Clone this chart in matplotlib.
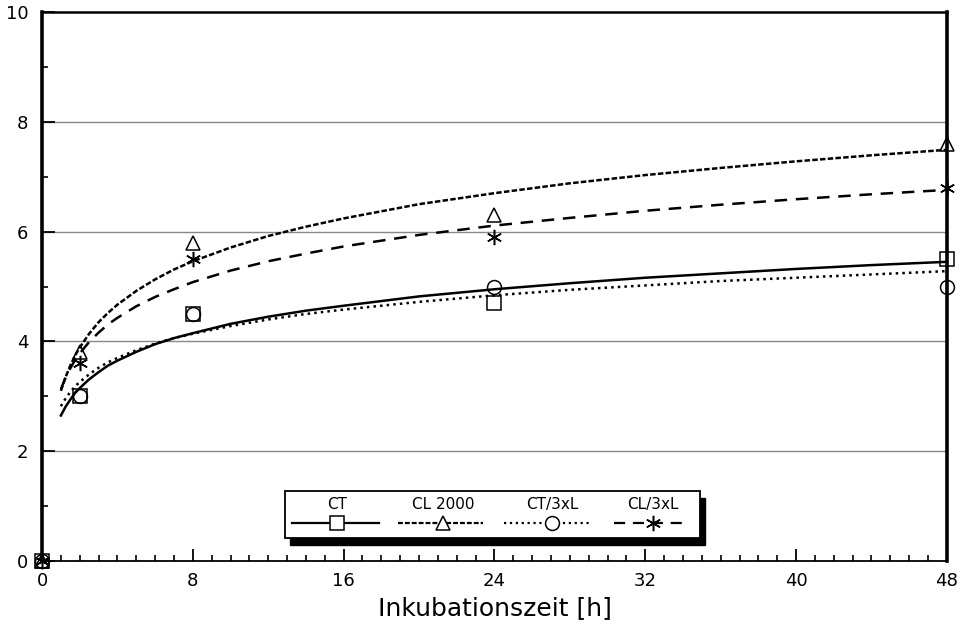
import matplotlib
matplotlib.use("Agg")
import matplotlib.pyplot as plt
from matplotlib.patches import Rectangle
from matplotlib.lines import Line2D
import numpy as np

# ---- data ----
hours = [0, 2, 8, 24, 48]
ct = [0, 3.0, 4.5, 4.7, 5.5]
cl2000 = [0, 3.8, 5.8, 6.3, 7.6]
ct3xl = [0, 3.0, 4.5, 5.0, 5.0]
cl3xl = [0, 3.6, 5.5, 5.9, 6.8]

# fitted curves
curve_x = [1, 1.25, 1.5, 1.75, 2, 2.5, 3, 3.5, 4, 5, 6, 7, 8, 10, 12, 14, 16,
           20, 24, 28, 32, 36, 40, 44, 48]
ct_fit = [2.65, 2.81, 2.94, 3.06, 3.15, 3.31, 3.44, 3.56, 3.65, 3.81, 3.95, 4.06,
          4.15, 4.32, 4.45, 4.56, 4.65, 4.82, 4.95, 5.06, 5.16, 5.24, 5.32, 5.39, 5.45]
cl2000_fit = [3.10, 3.35, 3.56, 3.74, 3.89, 4.14, 4.35, 4.52, 4.67, 4.92, 5.13, 5.31,
              5.46, 5.71, 5.92, 6.09, 6.24, 6.50, 6.70, 6.88, 7.03, 7.16, 7.28, 7.39, 7.49]
ct3xl_fit = [2.82, 2.96, 3.08, 3.18, 3.26, 3.40, 3.52, 3.62, 3.70, 3.84, 3.96, 4.06,
             4.14, 4.28, 4.40, 4.50, 4.58, 4.72, 4.84, 4.94, 5.02, 5.10, 5.16, 5.22, 5.28]
cl3xl_fit = [3.13, 3.34, 3.51, 3.66, 3.78, 3.99, 4.16, 4.31, 4.43, 4.64, 4.81, 4.95,
             5.08, 5.29, 5.46, 5.60, 5.73, 5.94, 6.11, 6.25, 6.38, 6.49, 6.59, 6.68, 6.76]

labels = ["CT", "CL 2000", "CT/3xL", "CL/3xL"]
xticks = [0, 8, 16, 24, 32, 40, 48]
yticks = [0, 2, 4, 6, 8, 10]

plt.rcParams['font.family'] = ['DejaVu Sans']

fig = plt.figure(figsize=(9.66, 6.32), dpi=100)
ax = fig.add_axes([0.0435, 0.1123, 0.9367, 0.8687])

ax.set_xlim(0, 48)
ax.set_ylim(0, 10)

# grid lines
for g in [2, 4, 6, 8]:
    ax.axhline(g, color='#888888', lw=1.0, zorder=1)

STAR = (6, 2, 0)
series = [
    (ct, ct_fit, 's', '-'),
    (cl2000, cl2000_fit, '^', (0, (2.2, 0.9))),
    (ct3xl, ct3xl_fit, 'o', ':'),
    (cl3xl, cl3xl_fit, STAR, (0, (5, 3.5))),
]
for pts, fit, mk, ls in series:
    ax.plot(curve_x, fit, color='black', lw=1.8, linestyle=ls, zorder=3,
            clip_on=False)
    ax.plot(hours, pts, linestyle='none', marker=mk,
            markersize=11 if mk == STAR else 10,
            markerfacecolor='none' if mk != STAR else 'black',
            markeredgecolor='black', markeredgewidth=1.1, zorder=4, clip_on=False)

# spines
ax.spines['left'].set_linewidth(2.6)
ax.spines['right'].set_linewidth(2.6)
ax.spines['top'].set_linewidth(1.8)
ax.spines['bottom'].set_linewidth(1.3)

ax.set_xticks(xticks)
ax.set_xticks(np.arange(0, 49, 1), minor=True)
ax.set_yticks(yticks)
ax.set_yticks(np.arange(0, 11, 1), minor=True)
ax.tick_params(axis='both', which='major', direction='in', length=9, width=1.3,
               labelsize=13)
ax.tick_params(axis='both', which='minor', direction='in', length=4.5, width=1.2)
ax.tick_params(axis='x', which='both', top=False, pad=8)
ax.tick_params(axis='y', which='both', right=False, pad=10)
ax.set_xticklabels([str(v) for v in xticks])
ax.set_yticklabels([str(v) for v in yticks])

ax.set_xlabel("Inkubationszeit [h]", fontsize=18, labelpad=4)

# legend box (drawn manually: labels above the line samples)
lx0, lx1 = 0.2685, 0.727
ly0, ly1 = 0.0419, 0.1275
dx, dy = 0.006, 0.013
ax.add_patch(Rectangle((lx0 + dx, ly0 - dy), lx1 - lx0, ly1 - ly0,
                       transform=ax.transAxes, facecolor='black',
                       edgecolor='black', zorder=5))
ax.add_patch(Rectangle((lx0, ly0), lx1 - lx0, ly1 - ly0,
                       transform=ax.transAxes, facecolor='white',
                       edgecolor='black', lw=1.3, zorder=6))

def px2ax(px):
    return (px - 42) / 905.0

def py2ax(py):
    return (561 - py) / 549.0

col_centers = [337, 443, 552, 653]
line_spans = [(292, 379), (398, 483), (504, 590), (614, 688)]
for i, (pts, fit, mk, ls) in enumerate(series):
    ax.text(px2ax(col_centers[i]), py2ax(504), labels[i], transform=ax.transAxes,
            ha='center', va='center', fontsize=11, zorder=7)
    xa, xb = line_spans[i]
    ax.add_line(Line2D([px2ax(xa), px2ax(xb)], [py2ax(523), py2ax(523)],
                       transform=ax.transAxes, color='black', lw=1.6,
                       linestyle=ls, zorder=7))
    ax.add_line(Line2D([px2ax(col_centers[i])], [py2ax(523)],
                       transform=ax.transAxes, marker=mk,
                       markersize=11 if mk == STAR else 10,
                       markerfacecolor='white' if mk != STAR else 'black',
                       markeredgecolor='black', markeredgewidth=1.1,
                       linestyle='none', zorder=8))

fig.savefig("out.png", dpi=100, facecolor='white')
